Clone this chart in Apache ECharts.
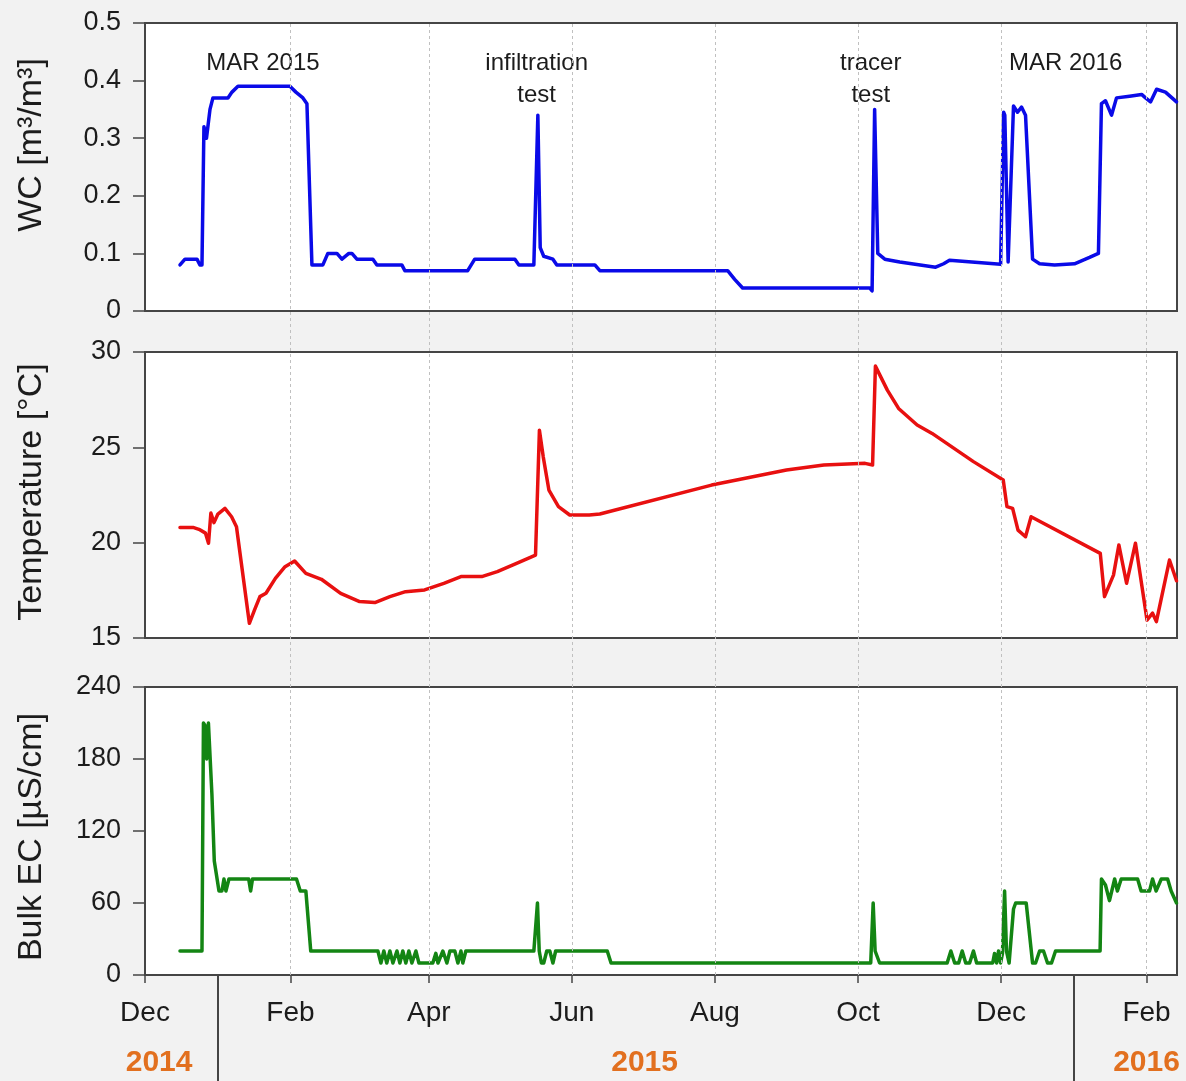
<!DOCTYPE html>
<html>
<head>
<meta charset="utf-8">
<script src="https://cdn.jsdelivr.net/npm/echarts@6/dist/echarts.min.js"></script>
<style>
  html, body { margin: 0; padding: 0; background: #f2f2f2; }
  #chart { width: 1186px; height: 1081px; }
</style>
</head>
<body>
<div id="chart"></div>
<script>
// ---- data ----
const monthTicks = ['2014-12-01','2015-02-01','2015-04-01','2015-06-01','2015-08-01','2015-10-01','2015-12-01','2016-02-01'];
const monthLabels = ['Dec','Feb','Apr','Jun','Aug','Oct','Dec','Feb'];
const yearBreaks = ['2015-01-01','2016-01-01'];
const yearLabels = ['2014','2015','2016'];
const yearLabelDates = ['2014-12-07','2015-07-02','2016-02-01'];

const wcTicks = [0, 0.1, 0.2, 0.3, 0.4, 0.5];
const tempTicks = [15, 20, 25, 30];
const ecTicks = [0, 60, 120, 180, 240];

const eventNames = ['MAR 2015', 'infiltration\ntest', 'tracer\ntest', 'MAR 2016'];
const eventDates = ['2015-01-20 07:00', '2015-05-17 00:00', '2015-10-06 10:00', '2015-12-28 12:00'];

// volumetric water content [m3/m3]
const wcData = [
  ['2014-12-15 22:00',0.08],['2014-12-18 01:00',0.09],['2014-12-23 04:00',0.09],['2014-12-24 10:00',0.08],
  ['2014-12-25 07:00',0.08],['2014-12-26 03:00',0.32],['2014-12-27 05:00',0.30],['2014-12-28 17:00',0.35],
  ['2014-12-29 23:00',0.37],['2015-01-05 09:00',0.37],['2015-01-07 02:00',0.38],['2015-01-09 15:00',0.39],
  ['2015-01-31 19:00',0.39],['2015-02-03 08:00',0.38],['2015-02-06 08:00',0.37],['2015-02-08 01:00',0.36],
  ['2015-02-10 04:00',0.08],['2015-02-14 20:00',0.08],['2015-02-16 23:00',0.10],['2015-02-20 20:00',0.10],
  ['2015-02-22 23:00',0.09],['2015-02-25 22:00',0.10],['2015-02-27 05:00',0.10],['2015-03-01 08:00',0.09],
  ['2015-03-08 04:00',0.09],['2015-03-09 21:00',0.08],['2015-03-20 12:00',0.08],['2015-03-21 19:00',0.07],
  ['2015-04-17 14:00',0.07],['2015-04-20 14:00',0.09],['2015-05-07 17:00',0.09],['2015-05-09 10:00',0.08],
  ['2015-05-15 19:00',0.08],['2015-05-17 12:00',0.34],['2015-05-18 12:00',0.11],['2015-05-20 00:00',0.095],
  ['2015-05-23 22:00',0.09],['2015-05-25 14:00',0.08],['2015-06-10 19:00',0.08],['2015-06-12 22:00',0.07],
  ['2015-08-06 10:00',0.07],['2015-08-09 10:00',0.055],['2015-08-12 19:00',0.04],['2015-10-05 23:00',0.04],
  ['2015-10-07 00:00',0.035],['2015-10-08 02:00',0.35],['2015-10-09 10:00',0.10],['2015-10-12 10:00',0.09],
  ['2015-10-18 19:00',0.085],['2015-11-03 02:00',0.076],['2015-11-06 12:00',0.082],['2015-11-09 00:00',0.088],
  ['2015-11-30 19:00',0.081],['2015-12-02 02:00',0.345],['2015-12-02 14:00',0.34],['2015-12-04 00:00',0.085],
  ['2015-12-04 19:00',0.085],['2015-12-06 07:00',0.356],['2015-12-08 00:00',0.345],['2015-12-09 17:00',0.354],
  ['2015-12-11 10:00',0.34],['2015-12-14 10:00',0.09],['2015-12-17 10:00',0.082],['2015-12-23 19:00',0.080],
  ['2016-01-01 07:00',0.082],['2016-01-07 17:00',0.093],['2016-01-11 12:00',0.10],['2016-01-12 19:00',0.36],
  ['2016-01-14 12:00',0.365],['2016-01-17 02:00',0.34],['2016-01-19 05:00',0.37],['2016-01-24 19:00',0.373],
  ['2016-01-29 22:00',0.376],['2016-01-31 14:00',0.37],['2016-02-02 17:00',0.363],['2016-02-05 07:00',0.385],
  ['2016-02-09 02:00',0.38],['2016-02-13 19:00',0.363]
];

// soil temperature [°C]
const tempData = [
  ['2014-12-15 22:00',20.8],['2014-12-21 11:00',20.8],['2014-12-24 00:00',20.7],['2014-12-26 19:00',20.5],
  ['2014-12-28 02:00',19.97],['2014-12-29 02:00',21.55],['2014-12-30 10:00',21.05],['2015-01-01 02:00',21.5],
  ['2015-01-04 02:00',21.8],['2015-01-06 22:00',21.36],['2015-01-09 00:00',20.84],['2015-01-14 12:00',15.77],
  ['2015-01-16 17:00',16.47],['2015-01-19 00:00',17.17],['2015-01-21 14:00',17.35],['2015-01-25 14:00',18.13],
  ['2015-01-29 17:00',18.74],['2015-02-02 19:00',19.04],['2015-02-07 14:00',18.39],['2015-02-14 05:00',18.08],
  ['2015-02-22 10:00',17.34],['2015-03-02 12:00',16.91],['2015-03-09 00:00',16.86],['2015-03-15 10:00',17.17],
  ['2015-03-22 02:00',17.43],['2015-03-30 05:00',17.52],['2015-04-07 10:00',17.87],['2015-04-14 17:00',18.22],
  ['2015-04-23 14:00',18.22],['2015-04-30 05:00',18.48],['2015-05-08 10:00',18.91],['2015-05-16 12:00',19.35],
  ['2015-05-18 04:00',25.9],['2015-05-19 19:00',24.5],['2015-05-22 05:00',22.76],['2015-05-26 07:00',21.89],
  ['2015-05-31 02:00',21.45],['2015-06-08 10:00',21.45],['2015-06-12 22:00',21.5],['2015-07-30 14:00',23.02],
  ['2015-08-31 12:00',23.81],['2015-09-16 10:00',24.07],['2015-10-04 00:00',24.16],['2015-10-07 05:00',24.07],
  ['2015-10-08 10:00',29.26],['2015-10-13 12:00',28.0],['2015-10-18 07:00',27.04],['2015-10-26 05:00',26.17],
  ['2015-11-01 14:00',25.73],['2015-11-19 05:00',24.25],['2015-12-01 22:00',23.29],['2015-12-03 12:00',21.89],
  ['2015-12-05 22:00',21.8],['2015-12-08 05:00',20.66],['2015-12-11 10:00',20.31],['2015-12-13 19:00',21.36],
  ['2016-01-12 07:00',19.44],['2016-01-14 02:00',17.17],['2016-01-17 22:00',18.3],['2016-01-20 05:00',19.88],
  ['2016-01-23 12:00',17.87],['2016-01-27 07:00',19.97],['2016-02-01 05:00',15.94],['2016-02-03 14:00',16.3],
  ['2016-02-05 05:00',15.86],['2016-02-10 19:00',19.09],['2016-02-13 19:00',18.0]
];

// bulk electrical conductivity [µS/cm]
const ecData = [
  ['2014-12-15 22:00',20],['2014-12-25 07:00',20],['2014-12-25 22:00',210],['2014-12-26 14:00',208],
  ['2014-12-27 07:00',180],['2014-12-28 01:00',210],['2014-12-28 17:00',210],['2014-12-29 13:00',150],
  ['2014-12-30 13:00',95],['2015-01-01 13:00',70],['2015-01-02 19:00',70],['2015-01-03 16:00',80],
  ['2015-01-04 12:00',70],['2015-01-05 19:00',80],['2015-01-14 05:00',80],['2015-01-15 01:00',70],
  ['2015-01-15 20:00',80],['2015-02-03 14:00',80],['2015-02-05 05:00',70],['2015-02-07 14:00',70],
  ['2015-02-09 16:00',20],['2015-03-10 07:00',20],['2015-03-11 14:00',10],['2015-03-12 20:00',20],
  ['2015-03-14 02:00',10],['2015-03-15 10:00',20],['2015-03-16 17:00',10],['2015-03-18 10:00',20],
  ['2015-03-19 16:00',10],['2015-03-20 22:00',20],['2015-03-22 05:00',10],['2015-03-23 12:00',20],
  ['2015-03-24 19:00',10],['2015-03-26 12:00',20],['2015-03-27 19:00',10],['2015-04-02 17:00',10],
  ['2015-04-04 00:00',18],['2015-04-04 22:00',10],['2015-04-07 00:00',20],['2015-04-08 17:00',10],
  ['2015-04-10 00:00',20],['2015-04-12 02:00',20],['2015-04-13 10:00',10],['2015-04-14 17:00',20],
  ['2015-04-15 12:00',10],['2015-04-16 19:00',20],['2015-05-15 19:00',20],['2015-05-17 08:00',60],
  ['2015-05-18 02:00',20],['2015-05-19 00:00',10],['2015-05-20 00:00',10],['2015-05-21 07:00',20],
  ['2015-05-22 14:00',20],['2015-05-23 22:00',10],['2015-05-25 02:00',20],['2015-06-16 02:00',20],
  ['2015-06-17 17:00',10],['2015-10-06 10:00',10],['2015-10-07 11:00',60],['2015-10-08 07:00',20],
  ['2015-10-10 05:00',10],['2015-11-08 00:00',10],['2015-11-09 14:00',20],['2015-11-11 05:00',10],
  ['2015-11-12 22:00',10],['2015-11-14 10:00',20],['2015-11-15 22:00',10],['2015-11-17 14:00',10],
  ['2015-11-19 05:00',20],['2015-11-20 14:00',10],['2015-11-27 10:00',10],['2015-11-28 05:00',18],
  ['2015-11-29 02:00',10],['2015-11-29 22:00',20],['2015-11-30 19:00',10],['2015-12-01 14:00',18],
  ['2015-12-02 12:00',70],['2015-12-03 07:00',20],['2015-12-04 10:00',10],['2015-12-06 07:00',55],
  ['2015-12-07 05:00',60],['2015-12-11 17:00',60],['2015-12-14 10:00',10],['2015-12-15 17:00',10],
  ['2015-12-17 10:00',20],['2015-12-19 02:00',20],['2015-12-20 19:00',10],['2015-12-22 12:00',10],
  ['2015-12-24 05:00',20],['2016-01-12 05:00',20],['2016-01-12 19:00',80],['2016-01-14 12:00',75],
  ['2016-01-16 05:00',62],['2016-01-18 10:00',80],['2016-01-19 14:00',70],['2016-01-21 05:00',80],
  ['2016-01-28 05:00',80],['2016-01-29 17:00',70],['2016-02-02 07:00',70],['2016-02-03 14:00',80],
  ['2016-02-05 02:00',70],['2016-02-07 07:00',80],['2016-02-10 00:00',80],['2016-02-11 12:00',70],
  ['2016-02-13 19:00',60]
];

// ---- helpers ----
const FONT = '"Liberation Sans", Arial, Helvetica, sans-serif';
const TEXT = '#1c1c1c';
const FRAME = '#454545';

// 'YYYY-MM-DD' or 'YYYY-MM-DD HH:mm' -> epoch ms (local time)
const toTs = s => {
  const p = s.split(/[- :]/).map(Number);
  return new Date(p[0], p[1] - 1, p[2], p[3] || 0, p[4] || 0).getTime();
};
const asSeries = rows => rows.map(r => [toTs(r[0]), r[1]]);

const X_MIN = toTs('2014-12-01');
const X_MAX = toTs('2016-02-14');
const monthTs = monthTicks.map(toTs);

const LEFT = 145, WIDTH = 1032;
const panel = (top, height) => ({
  left: LEFT, width: WIDTH, top: top, height: height,
  show: true, backgroundColor: '#ffffff', borderColor: FRAME, borderWidth: 2
});

function xAxisFor(gridIndex, withLabels) {
  return {
    type: 'value', gridIndex: gridIndex, min: X_MIN, max: X_MAX,
    axisLine: { show: false },
    splitLine: { show: false },
    axisTick: withLabels ? {
      show: true, inside: false, length: 8, customValues: monthTs,
      lineStyle: { color: FRAME, width: 1.5 }
    } : { show: false },
    axisLabel: withLabels ? {
      show: true, customValues: monthTs, margin: 24,
      fontSize: 28, color: TEXT, fontFamily: FONT,
      formatter: v => {
        const i = monthTs.indexOf(+v);
        return i >= 0 ? monthLabels[i] : '';
      }
    } : { show: false }
  };
}

function yAxisFor(gridIndex, name, ticks, fmt, namePad) {
  return {
    type: 'value', gridIndex: gridIndex,
    min: ticks[0], max: ticks[ticks.length - 1], interval: ticks[1] - ticks[0],
    name: name, nameLocation: 'middle', nameRotate: 90, nameGap: 96,
    nameTextStyle: { fontSize: 34, color: TEXT, fontFamily: FONT, padding: namePad },
    axisLine: { show: false },
    splitLine: { show: false },
    axisTick: { show: true, inside: false, length: 12, lineStyle: { color: FRAME, width: 1.5 } },
    axisLabel: { fontSize: 27, color: TEXT, fontFamily: FONT, margin: 24, formatter: fmt }
  };
}

const chart = echarts.init(document.getElementById('chart'), null, { renderer: 'canvas' });

chart.setOption({
  animation: false,
  backgroundColor: '#f2f2f2',
  grid: [
    panel(23, 288),
    panel(352, 286),
    panel(687, 288),
    { left: LEFT, width: WIDTH, top: 23, height: 952, show: false },   // month guides across all panels
    { left: LEFT, width: WIDTH, top: 976, height: 105, show: false }   // year band under the time axis
  ],
  xAxis: [
    xAxisFor(0, false),
    xAxisFor(1, false),
    xAxisFor(2, true),
    { type: 'value', gridIndex: 3, min: X_MIN, max: X_MAX, show: false },
    { type: 'value', gridIndex: 4, min: X_MIN, max: X_MAX, show: false }
  ],
  yAxis: [
    yAxisFor(0, 'WC [m³/m³]', wcTicks, v => (v === 0 ? '0' : v.toFixed(1)), [0, 0, 0, 44]),
    yAxisFor(1, 'Temperature [°C]', tempTicks, v => String(v), [0, 0, 0, 6]),
    yAxisFor(2, 'Bulk EC [µS/cm]', ecTicks, v => String(v), [0, 12, 0, 0]),
    { type: 'value', gridIndex: 3, min: 0, max: 1, show: false },
    { type: 'value', gridIndex: 4, min: 0, max: 1, show: false }
  ],
  series: [
    {
      // dashed month guides
      type: 'line', xAxisIndex: 3, yAxisIndex: 3, data: [], silent: true,
      markLine: {
        silent: true, symbol: ['none', 'none'], label: { show: false },
        lineStyle: { color: '#c0c0c0', width: 1, type: [3, 3] },
        emphasis: { disabled: true },
        data: monthTs.slice(1).map(t => ({ xAxis: t }))
      }
    },
    {
      type: 'line', name: 'WC', xAxisIndex: 0, yAxisIndex: 0, data: asSeries(wcData),
      showSymbol: false, silent: true,
      lineStyle: { color: '#0a0ae8', width: 3.5, join: 'round', cap: 'round' }
    },
    {
      type: 'line', name: 'Temperature', xAxisIndex: 1, yAxisIndex: 1, data: asSeries(tempData),
      showSymbol: false, silent: true,
      lineStyle: { color: '#e81010', width: 3.5, join: 'round', cap: 'round' }
    },
    {
      type: 'line', name: 'Bulk EC', xAxisIndex: 2, yAxisIndex: 2, data: asSeries(ecData),
      showSymbol: false, silent: true,
      lineStyle: { color: '#138513', width: 3.5, join: 'round', cap: 'round' }
    },
    {
      // event annotations in the water content panel
      type: 'scatter', xAxisIndex: 0, yAxisIndex: 0, symbolSize: 0, silent: true,
      itemStyle: { opacity: 1 },
      data: eventNames.map((n, i) => ({ name: n, value: [toTs(eventDates[i]), 0.458] })),
      label: {
        show: true, formatter: '{b}', position: 'inside', verticalAlign: 'top', align: 'center',
        fontSize: 24, lineHeight: 32, color: TEXT, fontFamily: FONT, opacity: 1
      }
    },
    {
      // year separators below the time axis
      type: 'line', xAxisIndex: 4, yAxisIndex: 4, data: [], silent: true,
      markLine: {
        silent: true, symbol: ['none', 'none'], label: { show: false },
        lineStyle: { color: FRAME, width: 2, type: 'solid' },
        emphasis: { disabled: true },
        data: yearBreaks.map(d => ({ xAxis: toTs(d) }))
      }
    },
    {
      type: 'scatter', xAxisIndex: 4, yAxisIndex: 4, symbolSize: 0, silent: true,
      itemStyle: { opacity: 1 },
      data: yearLabels.map((n, i) => ({ name: n, value: [toTs(yearLabelDates[i]), 0.17] })),
      label: {
        show: true, formatter: '{b}', position: 'inside', align: 'center',
        fontSize: 30, fontWeight: 'bold', color: '#e2701f', fontFamily: FONT, opacity: 1
      }
    }
  ]
});
</script>
</body>
</html>
